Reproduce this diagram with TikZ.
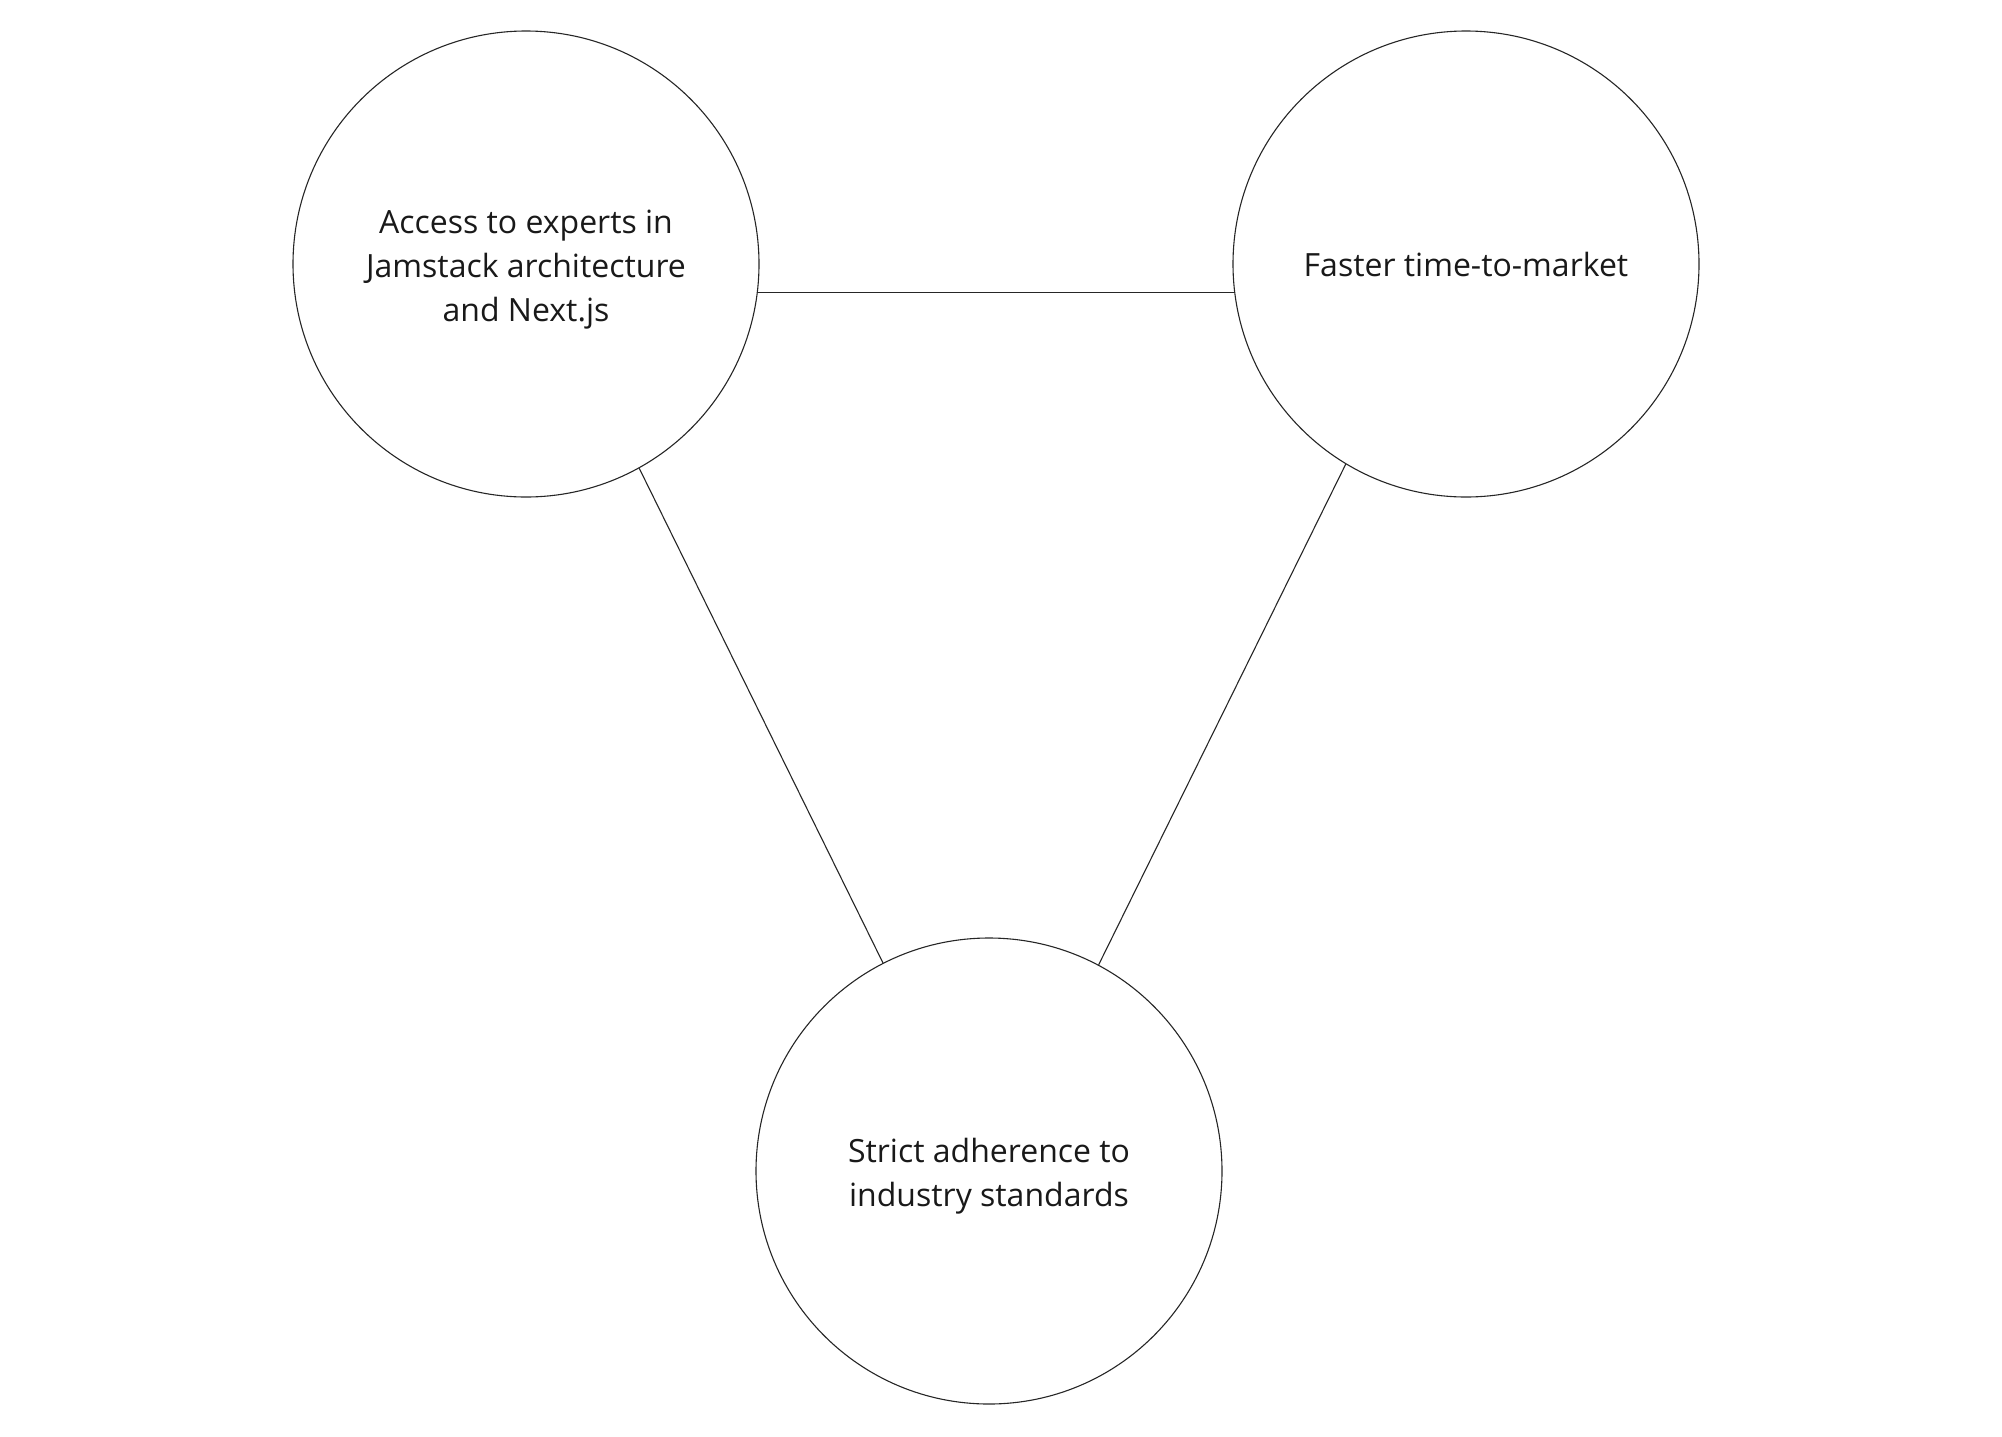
\documentclass[tikz,border=0pt]{standalone}
\usepackage{fontspec}
\setmainfont{Open Sans}
\begin{document}
\begin{tikzpicture}[x=0.5pt,y=-0.5pt,
  bubble/.style={circle,draw=black!85,line width=0.55pt,minimum size=233pt,inner sep=0pt},
  txt/.style={align=center,inner sep=0pt,font=\fontsize{16}{22}\selectfont,text=black!90},
  link/.style={draw=black!85,line width=0.55pt}]
\useasboundingbox (0,0) rectangle (2002,1436);
\node[bubble] (c1) at (526,264) {};
\node[bubble] (c2) at (1466,264) {};
\node[bubble] (c3) at (989,1171) {};
\node[txt] (t1) at ([yshift=-2.6pt]c1.center) {Access to experts in\\Jamstack architecture\\and Next.js};
\node[txt] (t2) at ([yshift=-0.2pt]c2.center) {Faster time-to-market};
\node[txt] (t3) at ([yshift=-2.6pt]c3.center) {Strict adherence to\\industry standards};
\draw[link] (c1.-7.5) -- (c2.187.5);
\draw[link] (c1.-61.6) -- (c3.117.4);
\draw[link] (c2.-121.1) -- (c3.62.6);
\end{tikzpicture}
\end{document}
